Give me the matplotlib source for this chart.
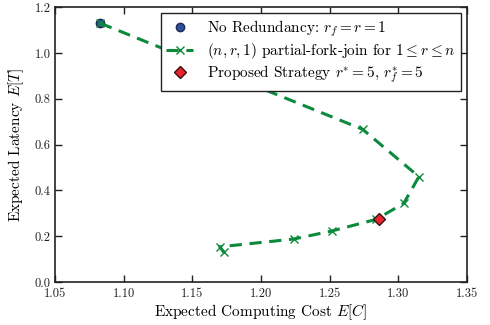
import numpy as np
import matplotlib
matplotlib.use("Agg")
import matplotlib.pyplot as plt

plt.rcParams['font.family'] = ['cmr10', 'DejaVu Serif']
plt.rcParams['mathtext.fontset'] = 'cm'
plt.rcParams['axes.formatter.use_mathtext'] = True
plt.rcParams['axes.unicode_minus'] = False

# expected cost / latency of the (n, r, 1) partial-fork-join, r = 1..n
cost_pfj = [1.083, 1.274, 1.315, 1.304, 1.284, 1.2515, 1.224, 1.170, 1.173]
latency_pfj = [1.13, 0.667, 0.46, 0.344, 0.274, 0.223, 0.188, 0.154, 0.130]

# single-replica baseline and the proposed operating point
cost_none, latency_none = 1.083, 1.13
cost_prop, latency_prop = 1.2862, 0.274

fig = plt.figure(figsize=(4.9, 3.25), dpi=100)
ax = fig.add_axes([0.112, 0.132, 0.841, 0.846])

green = '#0b8a3c'
ax.plot(cost_none, latency_none, 'o', color='#2f4f9c', markeredgecolor='#1a2a55',
        markersize=6, label=r'No Redundancy: $r_f = r = 1$', zorder=2)
ax.plot(cost_pfj, latency_pfj, '--x', color=green, linewidth=2.2, dashes=(4, 2.5),
        markersize=6, markeredgewidth=1.0,
        label=r'$(n,r,1)$ partial-fork-join for $1 \leq r \leq n$', zorder=3)
ax.plot(cost_prop, latency_prop, 'D', color='#e8242c', markeredgecolor='#3a1010',
        markersize=6.5, label=r'Proposed Strategy $r^{*}=5$, $r_f^{*}=5$', zorder=4)

ax.set_xlim(1.05, 1.35)
ax.set_ylim(0.0, 1.2)
ax.set_xticks(np.arange(1.05, 1.351, 0.05))
ax.set_yticks(np.arange(0.0, 1.21, 0.2))
ax.xaxis.set_major_formatter(matplotlib.ticker.FormatStrFormatter('%.2f'))
ax.yaxis.set_major_formatter(matplotlib.ticker.FormatStrFormatter('%.1f'))
ax.tick_params(direction='in', top=True, right=True, length=5, width=1.0,
               labelsize=9, colors='#222222')
ax.tick_params(axis='x', pad=4)
ax.tick_params(axis='y', pad=3)
for s in ax.spines.values():
    s.set_linewidth(1.2)
    s.set_color('#222222')

ax.set_xlabel(r'Expected Computing Cost $E[C]$', fontsize=11, labelpad=2)
ax.set_ylabel(r'Expected Latency $E[T]$', fontsize=11, labelpad=6)

leg = ax.legend(loc='upper right', numpoints=1, fancybox=False, fontsize=11,
                borderaxespad=0.4, handlelength=1.8, handletextpad=0.9,
                labelspacing=0.15, borderpad=0.35, framealpha=1.0)
leg.get_frame().set_edgecolor('#222222')
leg.get_frame().set_linewidth(1.0)

fig.savefig('out.png', dpi=100)
